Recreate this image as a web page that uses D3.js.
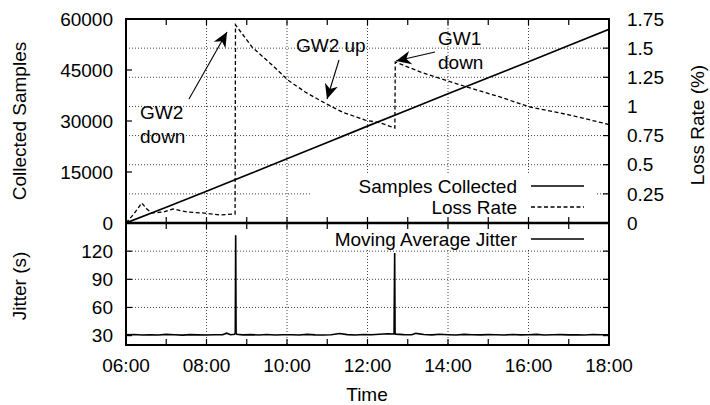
<!DOCTYPE html>
<html><head><meta charset="utf-8">
<script src="https://cdn.jsdelivr.net/npm/d3@7"></script>
<style>
body{margin:0;background:#fff}
text{font-family:"Liberation Sans",Arial,Helvetica,sans-serif;font-size:19px;fill:#000}
</style>
</head><body>
<svg id="c" width="710" height="405"></svg>
<script>
// ---------- data ----------
const hourTicks = [6, 8, 10, 12, 14, 16, 18];
const hourMinor = [7, 9, 11, 13, 15, 17];
const samplesTicks = [0, 15000, 30000, 45000, 60000];
const lossTicks = [0, 0.25, 0.5, 0.75, 1, 1.25, 1.5, 1.75];
const jitterTicks = [30, 60, 90, 120];

const samplesTime  = [6, 7, 8, 9, 10, 11, 12, 13, 14, 15, 16, 17, 18];
const samplesValue = [0, 4650, 9350, 14100, 18900, 23700, 28500, 33250, 38000, 42700, 47450, 52200, 56950];

const lossTime  = [6.00, 6.20, 6.39, 6.52, 6.64, 6.92, 7.17, 7.52, 7.91, 8.34, 8.66, 8.71, 8.72,
                   9.13, 9.63, 10.02, 10.45, 10.94, 11.37, 11.94, 12.30, 12.61, 12.68, 12.69,
                   13.38, 14.47, 15.29, 16.04, 17.03, 18.00];
const lossValue = [0.00, 0.08, 0.172, 0.12, 0.086, 0.094, 0.12, 0.094, 0.086, 0.069, 0.077, 0.077, 1.70,
                   1.51, 1.355, 1.227, 1.124, 1.029, 0.952, 0.883, 0.86, 0.824, 0.815, 1.381,
                   1.287, 1.167, 1.081, 0.995, 0.926, 0.845];

const jitterTime  = [6.00, 6.20, 6.40, 6.60, 6.80, 7.00, 7.20, 7.40, 7.60, 7.80, 8.00, 8.20, 8.40, 8.50, 8.60,
                     8.70, 8.715, 8.725, 8.735, 8.75, 8.90, 9.10, 9.30, 9.50, 9.70, 9.90, 10.10, 10.30,
                     10.50, 10.70, 10.90, 11.10, 11.30, 11.50, 11.70, 11.90, 12.10, 12.30, 12.50, 12.66,
                     12.675, 12.685, 12.70, 12.90, 13.10, 13.20, 13.40, 13.60, 13.80, 14.00, 14.20, 14.40,
                     14.60, 14.80, 15.00, 15.20, 15.40, 15.60, 15.80, 16.00, 16.20, 16.40, 16.60, 16.80,
                     17.00, 17.20, 17.40, 17.60, 17.80, 18.00];
const jitterValue = [30.8, 31.2, 30.6, 31.0, 30.7, 31.3, 30.9, 30.5, 31.1, 30.8, 30.6, 31.0, 30.9, 32.6, 31.0,
                     31.5, 33.0, 137, 34.0, 31.4, 30.8, 31.1, 30.7, 31.2, 30.6, 30.9, 31.0, 30.7,
                     31.3, 30.8, 30.6, 31.0, 32.2, 31.1, 30.7, 31.2, 30.9, 31.5, 32.0, 31.8,
                     118, 33.0, 31.6, 31.1, 30.9, 32.4, 31.2, 30.8, 31.4, 31.0, 30.7, 31.3,
                     31.0, 30.8, 31.1, 30.9, 30.6, 31.2, 30.8, 31.0, 31.3, 30.7, 30.9, 31.1,
                     30.8, 31.0, 30.6, 31.2, 30.9, 31.0];

// ---------- layout ----------
const svg = d3.select("#c");
const L = 126, R = 609, T1 = 19, B1 = 223, T2 = 223, B2 = 345;

const x = d3.scaleLinear().domain([6, 18]).range([L, R]);
const ySamp = d3.scaleLinear().domain([0, 60000]).range([B1, T1]);
const yLoss = d3.scaleLinear().domain([0, 1.75]).range([B1, T1]);
const yJit = d3.scaleLinear().domain([20, 150]).range([B2, T2]);
const fmtH = h => (h < 10 ? "0" : "") + h + ":00";

const defs = svg.append("defs");
defs.append("clipPath").attr("id", "cp1").append("rect").attr("x", L).attr("y", T1).attr("width", R - L).attr("height", B1 - T1);
defs.append("clipPath").attr("id", "cp2").append("rect").attr("x", L).attr("y", T2).attr("width", R - L).attr("height", B2 - T2);
defs.append("marker").attr("id", "ah").attr("viewBox", "0 0 10 10").attr("refX", 10).attr("refY", 5)
  .attr("markerWidth", 15).attr("markerHeight", 15).attr("markerUnits", "userSpaceOnUse").attr("orient", "auto")
  .append("path").attr("d", "M0,0.5 L10,5 L0,9.5 L3,5 Z").attr("fill", "#000");

const grid = { stroke: "#444", "stroke-width": 1, "stroke-dasharray": "1,2" };
function applyAttrs(sel, a) { for (const k in a) sel.attr(k, a[k]); return sel; }

// ---------- grids ----------
const g1 = svg.append("g");
hourTicks.filter(h => h > 6 && h < 18).forEach(h => {
  applyAttrs(g1.append("line").attr("x1", x(h)).attr("x2", x(h)).attr("y1", T1).attr("y2", B1), grid);
  applyAttrs(g1.append("line").attr("x1", x(h)).attr("x2", x(h)).attr("y1", T2).attr("y2", B2), grid);
});
lossTicks.filter(v => v > 0 && v < 1.75).forEach(v => {
  applyAttrs(g1.append("line").attr("x1", L).attr("x2", R).attr("y1", yLoss(v)).attr("y2", yLoss(v)), grid);
});
jitterTicks.filter(v => v > 30).forEach(v => {
  applyAttrs(g1.append("line").attr("x1", L).attr("x2", R).attr("y1", yJit(v)).attr("y2", yJit(v)), grid);
});

// opaque key boxes
svg.append("rect").attr("x", 312).attr("y", 175).attr("width", 285).attr("height", 47).attr("fill", "#fff");
svg.append("rect").attr("x", 305).attr("y", 225).attr("width", 292).attr("height", 25).attr("fill", "#fff");

// ---------- data lines ----------
const sampData = samplesTime.map((t, i) => [t, samplesValue[i]]);
const lossData = lossTime.map((t, i) => [t, lossValue[i]]);
const jitData = jitterTime.map((t, i) => [t, jitterValue[i]]);

svg.append("path").attr("clip-path", "url(#cp1)")
  .attr("d", d3.line().x(d => x(d[0])).y(d => ySamp(d[1]))(sampData))
  .attr("fill", "none").attr("stroke", "#000").attr("stroke-width", 1.7);
svg.append("path").attr("clip-path", "url(#cp1)")
  .attr("d", d3.line().x(d => x(d[0])).y(d => yLoss(d[1]))(lossData))
  .attr("fill", "none").attr("stroke", "#000").attr("stroke-width", 1.3).attr("stroke-dasharray", "4,2.5");
svg.append("path").attr("clip-path", "url(#cp2)")
  .attr("d", d3.line().x(d => x(d[0])).y(d => yJit(d[1]))(jitData))
  .attr("fill", "none").attr("stroke", "#000").attr("stroke-width", 1.6);

// ---------- ticks ----------
const tk = svg.append("g").attr("stroke", "#000").attr("stroke-width", 1.2);
const allHours = hourTicks.concat(hourMinor);
allHours.forEach(h => {
  [[T1, 6], [B1, -6], [T2, 6], [B2, -6]].forEach(([y0, d]) => {
    tk.append("line").attr("x1", x(h)).attr("x2", x(h)).attr("y1", y0).attr("y2", y0 + d);
  });
});
samplesTicks.forEach(v => tk.append("line").attr("x1", L).attr("x2", L + 6).attr("y1", ySamp(v)).attr("y2", ySamp(v)));
lossTicks.forEach(v => tk.append("line").attr("x1", R).attr("x2", R - 6).attr("y1", yLoss(v)).attr("y2", yLoss(v)));
jitterTicks.forEach(v => {
  tk.append("line").attr("x1", L).attr("x2", L + 6).attr("y1", yJit(v)).attr("y2", yJit(v));
  tk.append("line").attr("x1", R).attr("x2", R - 6).attr("y1", yJit(v)).attr("y2", yJit(v));
});

// ---------- borders ----------
svg.append("rect").attr("x", L).attr("y", T1).attr("width", R - L).attr("height", B1 - T1)
  .attr("fill", "none").attr("stroke", "#000").attr("stroke-width", 2);
svg.append("rect").attr("x", L).attr("y", T2).attr("width", R - L).attr("height", B2 - T2)
  .attr("fill", "none").attr("stroke", "#000").attr("stroke-width", 2);
svg.append("line").attr("x1", L).attr("x2", R).attr("y1", B1).attr("y2", B1).attr("stroke", "#000").attr("stroke-width", 2.6);

// ---------- tick labels ----------
samplesTicks.forEach(v => svg.append("text").attr("x", 113).attr("y", ySamp(v)).attr("dy", "0.35em")
  .attr("text-anchor", "end").text(v));
lossTicks.forEach(v => svg.append("text").attr("x", 627).attr("y", yLoss(v)).attr("dy", "0.35em")
  .text(v));
jitterTicks.forEach(v => svg.append("text").attr("x", 113).attr("y", yJit(v)).attr("dy", "0.35em")
  .attr("text-anchor", "end").text(v));
hourTicks.forEach(h => svg.append("text").attr("x", x(h)).attr("y", 372).attr("text-anchor", "middle").text(fmtH(h)));

// ---------- axis titles ----------
svg.append("text").attr("transform", "translate(26,121) rotate(-90)").attr("text-anchor", "middle").text("Collected Samples");
svg.append("text").attr("transform", "translate(26,286) rotate(-90)").attr("text-anchor", "middle").text("Jitter (s)");
svg.append("text").attr("transform", "translate(704,125) rotate(-90)").attr("text-anchor", "middle").text("Loss Rate (%)");
svg.append("text").attr("x", 367).attr("y", 401).attr("text-anchor", "middle").text("Time");

// ---------- legends ----------
const keys = [
  { label: "Samples Collected", y: 186, dash: null },
  { label: "Loss Rate", y: 207, dash: "4,2.5" },
  { label: "Moving Average Jitter", y: 239, dash: null }
];
keys.forEach(k => {
  svg.append("text").attr("x", 517).attr("y", k.y).attr("dy", "0.35em").attr("text-anchor", "end").text(k.label);
  const ln = svg.append("line").attr("x1", 531).attr("x2", 584).attr("y1", k.y).attr("y2", k.y)
    .attr("stroke", "#000").attr("stroke-width", 1.3);
  if (k.dash) ln.attr("stroke-dasharray", k.dash);
});

// ---------- annotations ----------
const notes = [
  { lines: ["GW2", "down"], x: 140, y: 119, ax1: 189, ay1: 99, ax2: 227, ay2: 32 },
  { lines: ["GW2 up"], x: 296, y: 52, ax1: 339, ay1: 60, ax2: 327, ay2: 99 },
  { lines: ["GW1", "down"], x: 438, y: 45, ax1: 435, ay1: 52, ax2: 396, ay2: 61 }
];
notes.forEach(n => {
  n.lines.forEach((s, i) => svg.append("text").attr("x", n.x).attr("y", n.y + i * 24).text(s));
  svg.append("line").attr("x1", n.ax1).attr("y1", n.ay1).attr("x2", n.ax2).attr("y2", n.ay2)
    .attr("stroke", "#000").attr("stroke-width", 1.1).attr("marker-end", "url(#ah)");
});
</script>
</body></html>
